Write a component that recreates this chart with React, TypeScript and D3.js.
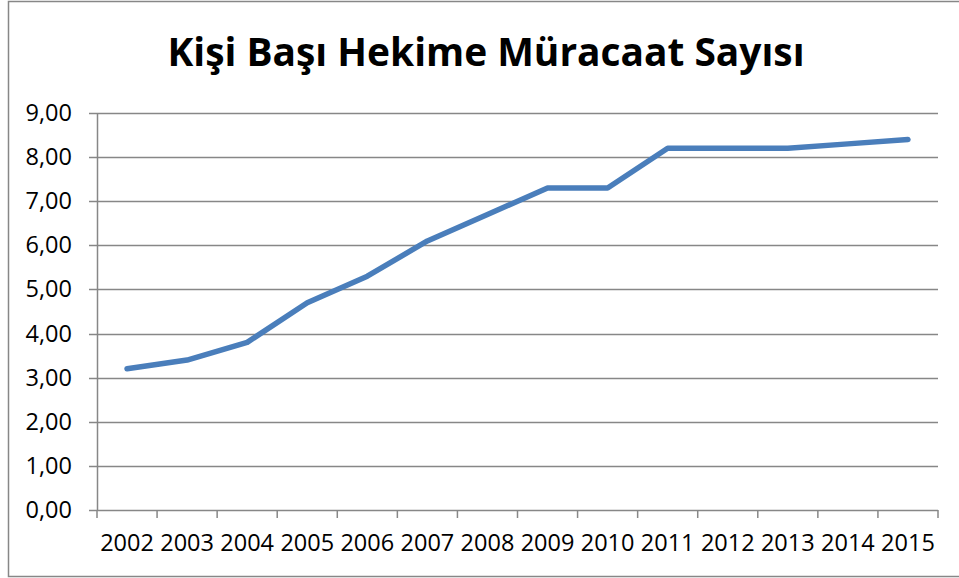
import React from 'react'
import * as d3 from 'd3'

const years = ['2002', '2003', '2004', '2005', '2006', '2007', '2008', '2009', '2010', '2011', '2012', '2013', '2014', '2015']
const values = [3.2, 3.4, 3.8, 4.7, 5.3, 6.1, 6.7, 7.3, 7.3, 8.2, 8.2, 8.2, 8.3, 8.4]
const yTicks = [0, 1, 2, 3, 4, 5, 6, 7, 8, 9]
const title = 'Kişi Başı Hekime Müracaat Sayısı'

function App () {
  const width = 959
  const height = 578
  const left = 97
  const right = 938
  const top = 113
  const bottom = 510
  const font = '"Open Sans", sans-serif'
  const grey = '#878787'

  const x = d3.scaleBand().domain(years).range([left, right])
  const y = d3.scaleLinear().domain([0, 9]).range([bottom, top])
  const fmt = (v: number) => d3.format('.2f')(v).replace('.', ',')

  const line = d3.line<number>()
    .x((_, i) => (x(years[i]) as number) + x.bandwidth() / 2)
    .y(d => y(d))

  const bounds = years.map(yr => x(yr) as number).concat([right])

  return (
    <svg width={width} height={height} style={{ position: 'absolute', left: 0, top: 0 }}>
      <rect x={0} y={0} width={width} height={height} fill='#fff' />
      <rect x={8.5} y={1.5} width={width + 10} height={575} fill='#fff' stroke={grey} strokeWidth={1.5} />
      <text x={486} y={66} textAnchor='middle' fontFamily={font} fontWeight='bold' fontSize={39}
        textLength={637} lengthAdjust='spacingAndGlyphs' fill='#000'>{title}</text>
      {yTicks.map(t => (
        <g key={t}>
          <line x1={89} x2={right} y1={Math.round(y(t)) + 0.5} y2={Math.round(y(t)) + 0.5} stroke={grey} strokeWidth={1.5} />
          <text x={72} y={y(t) + 8} textAnchor='end' fontFamily={font} fontSize={23.5} fill='#000'>{fmt(t)}</text>
        </g>
      ))}
      <line x1={left + 0.5} x2={left + 0.5} y1={top} y2={bottom} stroke={grey} strokeWidth={1.5} />
      {bounds.map((b, i) => (
        <line key={i} x1={b} x2={b} y1={bottom} y2={bottom + 8} stroke={grey} strokeWidth={1.5} />
      ))}
      {years.map(yr => (
        <text key={yr} x={(x(yr) as number) + x.bandwidth() / 2} y={551} textAnchor='middle'
          fontFamily={font} fontSize={23.5} fill='#000'>{yr}</text>
      ))}
      <path d={line(values) || ''} fill='none' stroke='#4a7ebb' strokeWidth={5.5}
        strokeLinejoin='round' strokeLinecap='round' />
    </svg>
  )
}

export default App
